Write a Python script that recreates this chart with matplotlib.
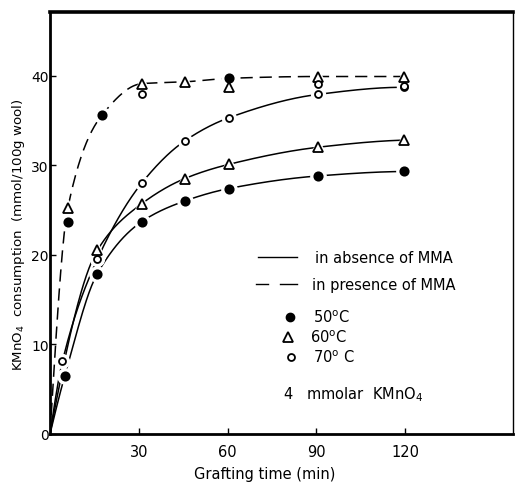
import numpy as np
import matplotlib
matplotlib.use("Agg")
import matplotlib.pyplot as plt

# ---------------- data ----------------
# in absence of MMA (solid curves)
t_abs_50 = [5, 16, 31, 45.5, 60.5, 90.5, 119.5]
y_abs_50 = [6.5, 17.9, 23.7, 26.0, 27.4, 28.8, 29.3]
t_abs_60 = [16, 31, 45.5, 60.5, 90.5, 119.5]
y_abs_60 = [20.5, 25.7, 28.5, 30.1, 32.0, 32.8]
t_abs_70 = [4.2, 16, 31, 45.5, 60.5, 90.5, 119.5]
y_abs_70 = [8.1, 19.5, 28.0, 32.7, 35.3, 37.9, 38.7]

# in presence of MMA (dashed curve)
t_pre_50 = [6, 17.6, 60.5]
y_pre_50 = [23.7, 35.6, 39.7]
t_pre_60 = [6, 31, 45.5, 60.5, 90.5, 119.5]
y_pre_60 = [25.2, 39.1, 39.3, 38.7, 39.9, 39.8]
t_pre_70 = [31, 90.5, 119.5]
y_pre_70 = [37.9, 39.1, 38.8]

x_ticks = [30, 60, 90, 120]
y_ticks = [0, 10, 20, 30, 40]


def pchip(x, y, xs):
    x = np.asarray(x, float); y = np.asarray(y, float)
    h = np.diff(x); d = np.diff(y) / h
    n = len(x); m = np.zeros(n)
    for k in range(1, n - 1):
        if d[k - 1] * d[k] > 0:
            w1 = 2 * h[k] + h[k - 1]; w2 = h[k] + 2 * h[k - 1]
            m[k] = (w1 + w2) / (w1 / d[k - 1] + w2 / d[k])
    m[0] = ((2 * h[0] + h[1]) * d[0] - h[0] * d[1]) / (h[0] + h[1])
    if np.sign(m[0]) != np.sign(d[0]):
        m[0] = 0
    m[-1] = ((2 * h[-1] + h[-2]) * d[-1] - h[-1] * d[-2]) / (h[-1] + h[-2])
    if np.sign(m[-1]) != np.sign(d[-1]):
        m[-1] = 0
    idx = np.clip(np.searchsorted(x, xs) - 1, 0, n - 2)
    hh = h[idx]; s = (xs - x[idx]) / hh
    h00 = 2 * s**3 - 3 * s**2 + 1; h10 = s**3 - 2 * s**2 + s
    h01 = -2 * s**3 + 3 * s**2; h11 = s**3 - s**2
    return h00 * y[idx] + h10 * hh * m[idx] + h01 * y[idx + 1] + h11 * hh * m[idx + 1]


fig = plt.figure(figsize=(5.16, 4.85), dpi=100)
ax = fig.add_axes([50 / 516, 50 / 485, 463 / 516, 422 / 485])
ax.set_xlim(0, 156.5)
ax.set_ylim(0, 47.1)

lw = 1.1
# solid curves
for tt, yy in [(t_abs_50, y_abs_50), (t_abs_60, y_abs_60), (t_abs_70, y_abs_70)]:
    xs = np.linspace(0, tt[-1], 400)
    ax.plot(xs, pchip([0] + tt, [0] + yy, xs), color="black", lw=lw, zorder=2)

# dashed curve: smooth envelope through the presence points (max per time)
tp = np.array(t_pre_50 + t_pre_60 + t_pre_70, float)
yp = np.array(y_pre_50 + y_pre_60 + y_pre_70, float)
tu = np.unique(tp)
yu = np.array([yp[tp == v].max() for v in tu])
yu = np.maximum.accumulate(yu)
xs = np.linspace(0, tu[-1], 400)
ax.plot(xs, pchip(np.r_[0, tu], np.r_[0, yu], xs), color="black", lw=lw,
        dashes=(8, 4.5), zorder=2)

# markers with white halo (gaps in lines around the points)
def pts(tt, yy, marker, filled, size):
    ax.plot(tt, yy, ls="none", marker=marker, ms=size + 5, mfc="white",
            mec="white", zorder=3)
    ax.plot(tt, yy, ls="none", marker=marker, ms=size,
            mfc="black" if filled else "white", mec="black", mew=1.3, zorder=4)

for tt, yy in [(t_abs_50, y_abs_50), (t_pre_50, y_pre_50)]:
    pts(tt, yy, "o", True, 6)
for tt, yy in [(t_abs_60, y_abs_60), (t_pre_60, y_pre_60)]:
    pts(tt, yy, "^", False, 6.5)
for tt, yy in [(t_abs_70, y_abs_70), (t_pre_70, y_pre_70)]:
    pts(tt, yy, "o", False, 5)

# axes styling
ax.set_xticks(x_ticks)
ax.set_yticks(y_ticks)
ax.tick_params(direction="in", length=4, width=1, labelsize=10, pad=1)
ax.tick_params(axis="x", labelsize=10.5, pad=7)
for s, w in [("left", 2.0), ("bottom", 2.0), ("top", 2.6), ("right", 1.0)]:
    ax.spines[s].set_linewidth(w)

ax.set_xlabel("Grafting time (min)", fontsize=10.5)
ax.xaxis.set_label_coords(0.464, -0.075)
ax.set_ylabel("KMnO$_4$  consumption  (mmol/100g wool)", fontsize=9.6)
ax.yaxis.set_label_coords(-0.05, 0.474)

# in-plot legend
T = ax.transAxes
ax.plot([0.449, 0.533], [0.419, 0.419], color="black", lw=1.0, transform=T)
ax.text(0.572, 0.419, "in absence of MMA", transform=T, va="center",
        fontsize=10.5)
ax.plot([0.445, 0.471], [0.355, 0.355], color="black", lw=1.0, transform=T)
ax.plot([0.497, 0.533], [0.355, 0.355], color="black", lw=1.0, transform=T)
ax.text(0.566, 0.355, "in presence of MMA", transform=T, va="center",
        fontsize=10.5)
ax.plot([0.518], [0.277], marker="o", ms=6, color="black", transform=T)
ax.text(0.568, 0.277, "50$^{\\rm o}$C", transform=T, va="center", fontsize=10.5)
ax.plot([0.514], [0.230], marker="^", ms=6.5, mfc="white", mec="black",
        mew=1.3, transform=T)
ax.text(0.562, 0.230, "60$^{\\rm o}$C", transform=T, va="center", fontsize=10.5)
ax.plot([0.521], [0.182], marker="o", ms=5, mfc="white", mec="black",
        mew=1.3, transform=T)
ax.text(0.568, 0.182, "70$^{\\rm o}$ C", transform=T, va="center", fontsize=10.5)
ax.text(0.503, 0.095, "4   mmolar  KMnO$_4$", transform=T, va="center",
        fontsize=10.5)

fig.savefig("out.png", dpi=100)
